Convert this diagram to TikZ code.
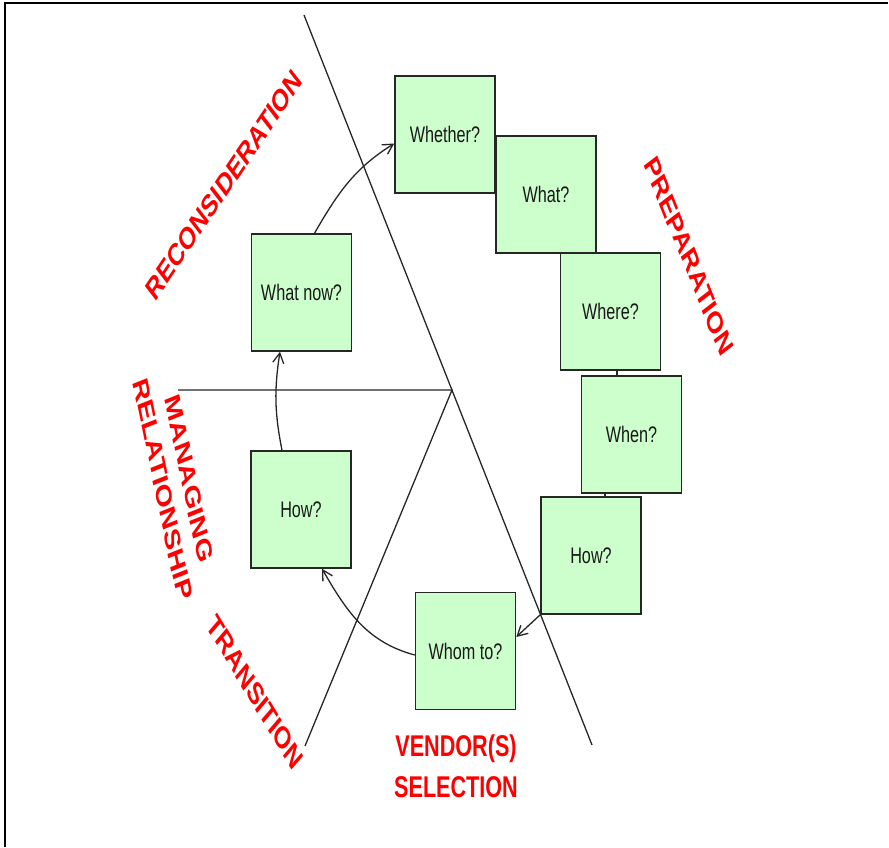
\documentclass[tikz,border=0pt]{standalone}
\usepackage{fontspec}
\setmainfont{Liberation Sans}
\usepackage{graphicx}
\usetikzlibrary{arrows.meta}
\definecolor{boxgreen}{HTML}{CCFFCC}
\newcommand{\sqz}[1]{\scalebox{0.72}[1]{#1}}
\tikzset{
  qbox/.style={draw=black!85, line width=1.5pt, fill=boxgreen, minimum width=100pt,
    minimum height=117pt, inner sep=0pt, font=\fontsize{22.5}{26}\selectfont, text=black!90},
  phase/.style={text=red, font=\fontsize{31}{36}\selectfont\bfseries, transform shape,
    align=center, inner sep=0pt},
  divider/.style={line width=1.3pt, draw=black!85},
  frameline/.style={line width=2pt, draw=black},
  flow/.style={line width=1.3pt, draw=black!85, -{Straight Barb[length=10pt,width=11pt]}},
}
\begin{document}
\begin{tikzpicture}[x=1pt,y=1pt]
\useasboundingbox (0,0) rectangle (889,847);
% frame
\coordinate (ftl) at (4.5,843.5);
\coordinate (ftr) at (888,843.5);
\coordinate (fbl) at (4.5,0);
\draw[frameline] (fbl) -- (ftl) -- (ftr);

% dividing lines
\coordinate (dtop) at (304,832);
\coordinate (dbot) at (592,102);
\coordinate (hub) at (452,457);
\coordinate (hleft) at (178,457);
\coordinate (tbot) at (305,101);
\draw[divider] (dtop) -- (dbot);
\draw[divider] (hleft) -- (hub) -- (tbot);

% boxes
\node[qbox] (wh)  at (445,712.5) {\sqz{Whether?}};
\node[qbox] (wt)  at (546,652.5) {\sqz{What?}};
\node[qbox] (wr)  at (610.5,535.5) {\sqz{Where?}};
\node[qbox] (wn)  at (631.5,412.5) {\sqz{When?}};
\node[qbox] (hr)  at (591,291.5) {\sqz{How?}};
\node[qbox] (wo)  at (465.5,196) {\sqz{Whom to?}};
\node[qbox] (hl)  at (301,337.5) {\sqz{How?}};
\node[qbox] (wnw) at (301.5,554.5) {\sqz{What now?}};

% small ticks between boxes
\draw[divider] ([xshift=6.5pt]wr.south) -- ([xshift=-14.5pt]wn.north);
\draw[divider] ([xshift=-26.5pt]wn.south) -- ([xshift=14pt]hr.north);

% arrows
\draw[flow] ([xshift=13pt]wnw.north) to[out=60, in=212] ([yshift=-9pt]wh.west);
\draw[flow] ([xshift=-19pt]hl.north) to[bend left=10] ([xshift=-21.5pt]wnw.south);
\draw[flow] ([yshift=-4pt]wo.west) to[out=165, in=-60] ([xshift=21pt]hl.south);
\draw[flow] (hr.south west) -- ([yshift=14pt]wo.east);

% phase labels
\begin{scope}[shift={(224,662)}, xscale=0.72]
  \node[phase, rotate=47] (lrec) {RECONSIDERATION};
\end{scope}
\begin{scope}[shift={(689,591)}, xscale=0.72]
  \node[phase, rotate=-61] (lprep) {PREPARATION};
\end{scope}
\begin{scope}[shift={(176,363)}, xscale=0.72]
  \node[phase, rotate=-74, font=\fontsize{31}{38}\selectfont\bfseries] (lman) {MANAGING\\RELATIONSHIP};
\end{scope}
\begin{scope}[shift={(255,155)}, xscale=0.72]
  \node[phase, rotate=-50] (ltrans) {TRANSITION};
\end{scope}
\begin{scope}[shift={(456,81)}, xscale=0.72]
  \node[phase, font=\fontsize{30}{41}\selectfont\bfseries] (lvend) {VENDOR(S)\\SELECTION};
\end{scope}
\end{tikzpicture}
\end{document}
